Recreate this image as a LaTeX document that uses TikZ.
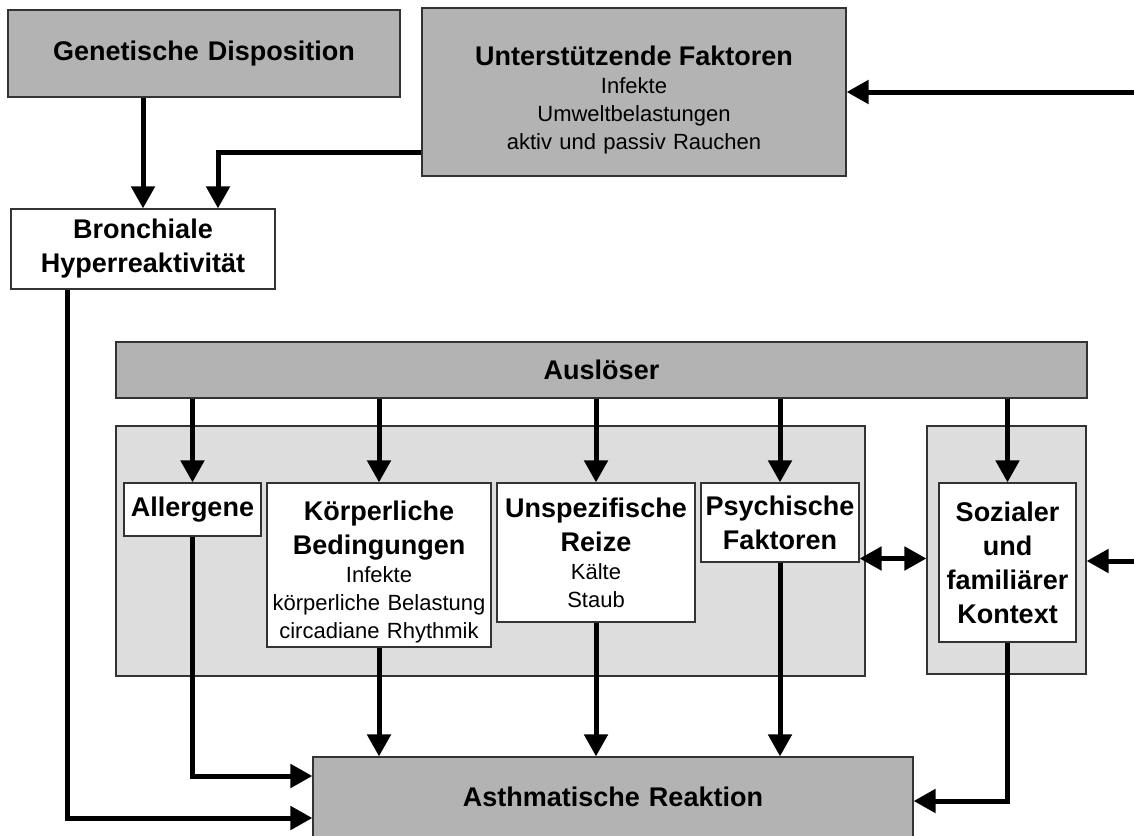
\documentclass[tikz,border=0pt]{standalone}
\usepackage{fontspec}
\setmainfont{Liberation Sans}
\usetikzlibrary{arrows.meta}

\definecolor{boxdark}{RGB}{179,179,179}
\definecolor{boxlight}{RGB}{221,221,221}
\newcommand\boxtitle{\fontsize{27}{34}\selectfont\bfseries}
\newcommand\boxtext{\fontsize{22}{28}\selectfont}

\begin{document}
\begin{tikzpicture}[x=1pt,y=-1pt,
  basebox/.style={draw=black!80,line width=1.2pt,inner sep=0pt,align=center},
  darkbox/.style={basebox,fill=boxdark},
  whitebox/.style={basebox,fill=white},
  groupbox/.style={basebox,fill=boxlight},
  arr/.style={line width=5pt,-{Triangle[length=22pt,width=23pt]}},
  dblarr/.style={line width=5pt,{Triangle[length=22pt,width=23pt]}-{Triangle[length=22pt,width=23pt]}}]
  \useasboundingbox (0,0) rectangle (1134,835);
  % ---------------- upper part ----------------
  \node[darkbox,text width=392pt,minimum height=87pt,font=\boxtitle] (gen) at (204,53.5) {Genetische Disposition};
  \node[darkbox,text width=424pt,minimum height=168pt,font=\boxtext] (unt) at (634,92)
    {{\boxtitle\rule{0pt}{35pt}Unterstützende Faktoren\par}Infekte\\Umweltbelastungen\\aktiv und passiv Rauchen};
  \node[whitebox,text width=264pt,minimum height=80pt,font=\boxtitle] (bron) at (143,249) {Bronchiale\\Hyperreaktivität};
  \coordinate (rin1) at (1134,92);
  % ---------------- triggers ----------------
  \node[darkbox,text width=971pt,minimum height=56pt,font=\boxtitle] (ausl) at (601.5,370) {Auslöser};
  \node[groupbox,minimum width=749pt,minimum height=250pt] (grpA) at (490.5,551) {};
  \node[groupbox,minimum width=159pt,minimum height=248pt] (grpB) at (1006.5,550) {};
  \node[whitebox,text width=137pt,minimum height=53pt,font=\boxtitle] (aller) at (192.5,509.5) {Allergene};
  \node[whitebox,text width=224pt,minimum height=164pt,font=\boxtext] (koerp) at (379,565)
    {{\boxtitle\rule{0pt}{34pt}Körperliche\\Bedingungen\par}Infekte\\körperliche Belastung\\circadiane Rhythmik};
  \node[whitebox,text width=198pt,minimum height=139pt,font=\boxtext] (unspez) at (596,552.5)
    {{\boxtitle Unspezifische\\Reize\par}Kälte\\Staub};
  \node[whitebox,text width=158pt,minimum height=79pt,font=\boxtitle] (psych) at (780,522.5) {Psychische\\Faktoren};
  \node[whitebox,text width=137pt,minimum height=159pt,font=\boxtitle] (sozial) at (1007.5,562.5) {Sozialer\\und\\familiärer\\Kontext};
  \coordinate (rin2) at (1134,561);
  \coordinate (pm) at ([yshift=-36pt]psych.east);
  % ---------------- reaction ----------------
  \node[darkbox,text width=600pt,minimum height=80pt,font=\boxtitle] (asth) at (613,797) {Asthmatische Reaktion};
  % connectors
  \draw[arr] (bron.north |- gen.south) -- (bron.north);
  \draw[arr] ([yshift=-60pt]unt.west) -| ([xshift=75pt]bron.north);
  \draw[arr] (rin1) -- (rin1 -| unt.east);
  \draw[arr] ([xshift=-76pt]bron.south) |- ([yshift=-21pt]asth.west);
  \foreach \n in {aller,koerp,unspez,psych,sozial}
    \draw[arr] (ausl.south -| \n.north) -- (\n.north);
  \draw[arr] (aller.south) |- ([yshift=21pt]asth.west);
  \foreach \n in {koerp,unspez,psych}
    \draw[arr] (\n.south) -- (\n.south |- asth.north);
  \draw[arr] (sozial.south) |- ([yshift=-4pt]asth.east);
  \draw[dblarr] (pm) -- (pm -| grpB.west);
  \draw[arr] (rin2) -- (rin2 -| grpB.east);
\end{tikzpicture}
\end{document}
